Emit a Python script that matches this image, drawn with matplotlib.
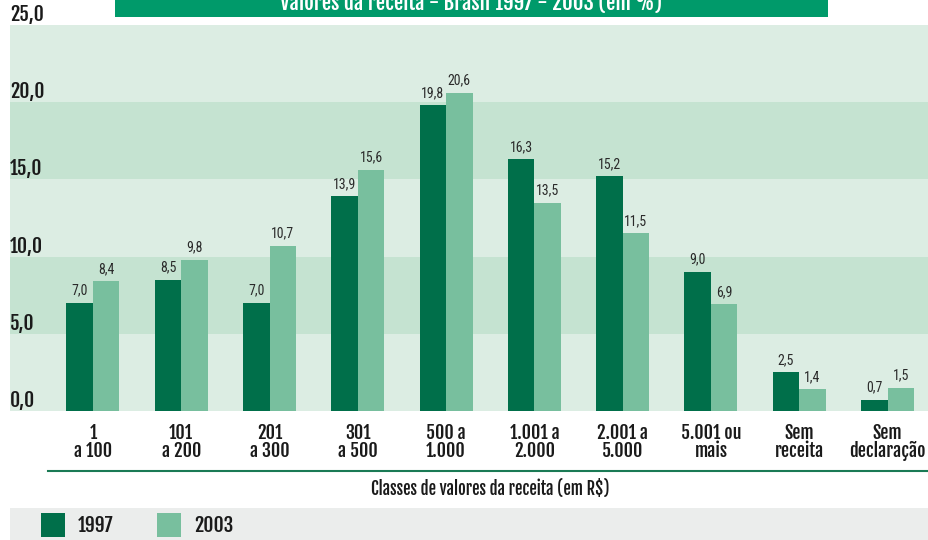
import matplotlib
matplotlib.use("Agg")
import matplotlib.pyplot as plt
from matplotlib.patches import Rectangle
import numpy as np

categories = ["1\na 100", "101\na 200", "201\na 300", "301\na 500", "500 a\n1.000",
              "1.001 a\n2.000", "2.001 a\n5.000", "5.001 ou\nmais", "Sem\nreceita", "Sem\ndeclaração"]
v1997 = [7.0, 8.5, 7.0, 13.9, 19.8, 16.3, 15.2, 9.0, 2.5, 0.7]
v2003 = [8.4, 9.8, 10.7, 15.6, 20.6, 13.5, 11.5, 6.9, 1.4, 1.5]
yticks = [0, 5, 10, 15, 20, 25]
ytick_labels = ["0,0", "5,0", "10,0", "15,0", "20,0", "25,0"]
series_names = ["1997", "2003"]
title = "Valores da receita - Brasil 1997 - 2003 (em %)"
xlabel = "Classes de valores da receita (em R$)"

C1 = "#006f4a"
C2 = "#78bf9e"
BAND_L = "#dcede3"
BAND_D = "#c5e3d1"
BOLDFONT = ["Fjalla One", "Roboto Condensed", "DejaVu Sans"]
FONT = ["Roboto Condensed", "DejaVu Sans"]
TXT = "#1a1a1a"

W, H = 929, 540
fig = plt.figure(figsize=(W / 100, H / 100), dpi=100)
ax = fig.add_axes([10 / W, (H - 411) / H, 919 / W, 386 / H])

x = np.arange(len(categories))
bw = 0.30
ax.set_xlim(-0.94, 9.47)
ax.set_ylim(0, 25)

# bands
for i in range(len(yticks) - 1):
    ax.axhspan(yticks[i], yticks[i + 1], color=BAND_D if i % 2 == 1 else BAND_L, lw=0, zorder=0)

ax.bar(x - bw / 2, v1997, bw, color=C1, zorder=2)
ax.bar(x + bw / 2, v2003, bw, color=C2, zorder=2)

for off, vals in [(-bw / 2, v1997), (bw / 2, v2003)]:
    for xi, v in zip(x, vals):
        ax.text(xi + off, v + 0.35, f"{v:.1f}".replace(".", ","), ha="center", va="bottom",
                fontsize=10, family=FONT, color="#2a2a2a")

for t, lab in zip(yticks, ytick_labels):
    ax.text(-0.94, t, lab, ha="left", va="bottom", fontsize=14, fontweight="bold",
            family=BOLDFONT, color=TXT)

ax.set_xticks([])
ax.set_yticks([])
for s in ax.spines.values():
    s.set_visible(False)

for xi, lab in zip(x, categories):
    ax.text(xi, -0.75, lab, ha="center", va="top", fontsize=13, fontweight="bold",
            family=BOLDFONT, color=TXT, linespacing=0.92)

# x axis line
fig.add_artist(plt.Line2D([48 / W, 1], [(H - 471) / H] * 2, color="#1a7a55", lw=1.5))
fig.text(490 / W, (H - 489) / H, xlabel, ha="center", va="center", fontsize=12,
         fontweight="bold", family=BOLDFONT, color=TXT)

# legend band
fig.add_artist(Rectangle((10 / W, 0), 919 / W, 32 / H, transform=fig.transFigure,
                         color="#ebedec", lw=0))
for px, col, name in [(41, C1, series_names[0]), (157, C2, series_names[1])]:
    fig.add_artist(Rectangle((px / W, 3 / H), 24 / W, 24 / H, transform=fig.transFigure,
                             color=col, lw=0))
    fig.text((px + 37) / W, 15 / H, name, ha="left", va="center", fontsize=14,
             fontweight="bold", family=BOLDFONT, color=TXT)

# title box
fig.add_artist(Rectangle((115 / W, (H - 17) / H), 713 / W, 17 / H, transform=fig.transFigure,
                         color="#009a6a", lw=0))
fig.text(471 / W, (H - 3) / H, title, ha="center", va="center", fontsize=15,
         fontweight="bold", family=BOLDFONT, color="white")

fig.savefig("out.png", dpi=100)
